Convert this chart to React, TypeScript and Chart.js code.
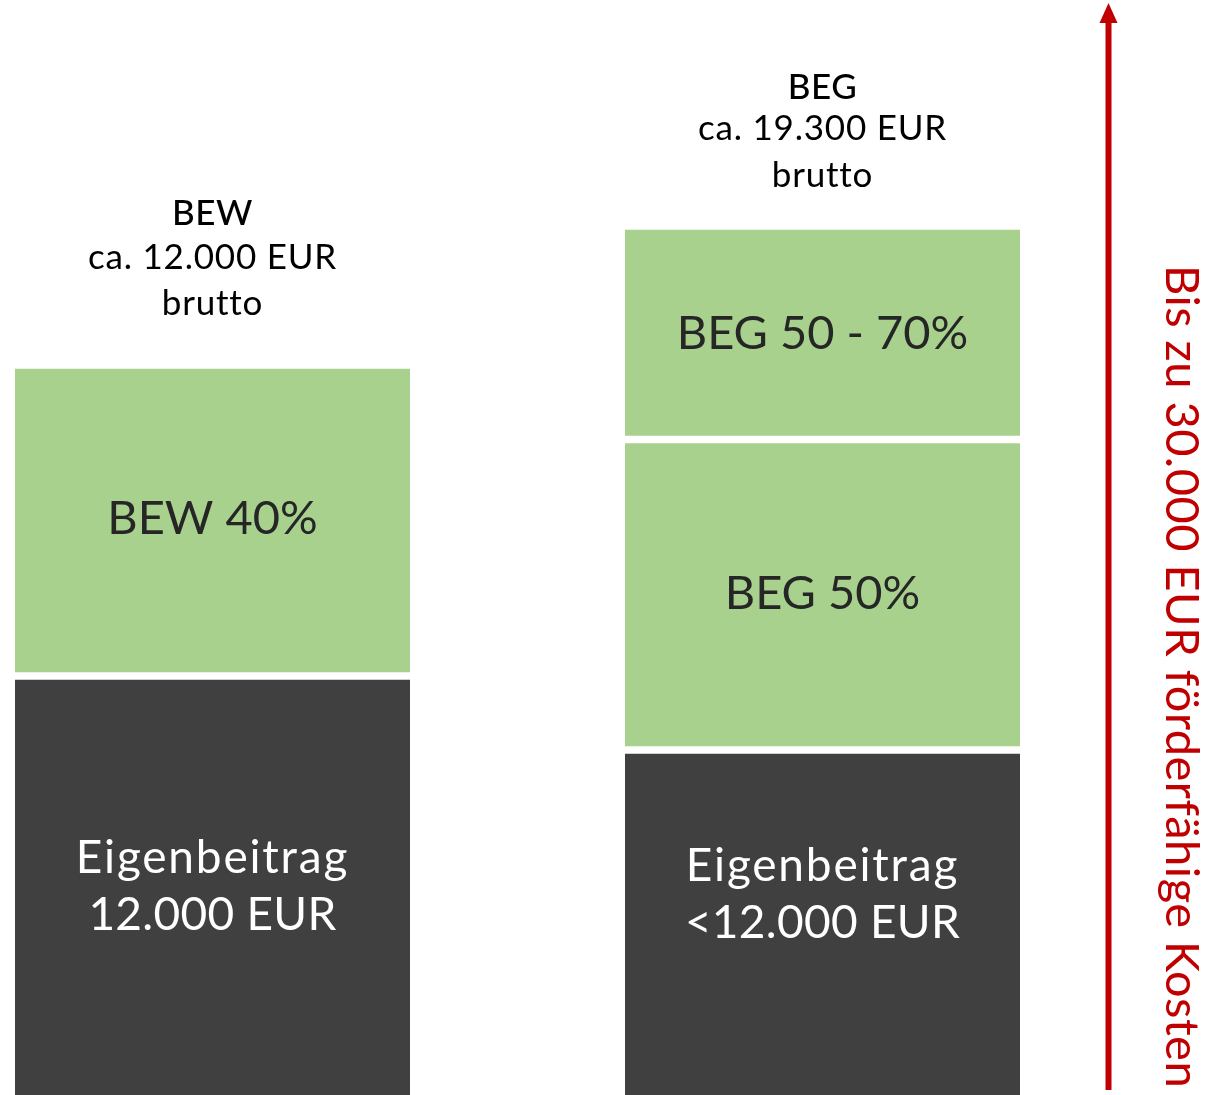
import React, { useEffect, useRef } from 'react';
import { Chart, registerables } from 'chart.js';

Chart.register(...registerables);

// ---- data ----
const categories = ['BEW', 'BEG'];
const headerLines = [
  ['BEW', 'ca. 12.000 EUR', 'brutto'],
  ['BEG', 'ca. 19.300 EUR', 'brutto'],
];
// segment heights (relative units)
const eigenbeitrag = [419, 345];
const foerderung = [311, 310.5];
const zusatzfoerderung: (number | null)[] = [null, 213.5];
const eigenLabels = [
  ['Eigenbeitrag', '12.000 EUR'],
  ['Eigenbeitrag', '<12.000 EUR'],
];
const foerderLabels = ['BEW 40%', 'BEG 50%'];
const zusatzLabels = ['', 'BEG 50 - 70%'];
const arrowLabel = 'Bis zu 30.000 EUR förderfähige Kosten';
const yMax = 1095;

// ---- style ----
const GREEN = '#A9D18E';
const DARK = '#404040';
const RED = '#C00000';
const FONT = 'Lato, "Noto Sans", sans-serif';
// baseline distance above bar top for each header line
const headerOffsets = [
  [140, 96, 50],
  [127, 86, 39],
];
const eigenShift = [0, -29];

const labelsPlugin = {
  id: 'labels',
  afterDatasetsDraw(chart: any) {
    const ctx = chart.ctx as CanvasRenderingContext2D & { letterSpacing?: string };
    const m0 = chart.getDatasetMeta(0).data;
    const m1 = chart.getDatasetMeta(1).data;
    const m2 = chart.getDatasetMeta(2).data;
    ctx.save();
    ctx.textAlign = 'center';
    ctx.textBaseline = 'alphabetic';

    const capCentered = (text: string, x: number, cy: number, size: number) => {
      ctx.fillText(text, x, cy + size * 0.358);
    };

    categories.forEach((_, i) => {
      const b0 = m0[i];
      const b1 = m1[i];
      const b2 = m2[i];
      // eigenbeitrag
      ctx.fillStyle = '#FFFFFF';
      ctx.font = `46px ${FONT}`;
      const cy0 = (b0.y + b0.base) / 2 + eigenShift[i];
      const lines = eigenLabels[i];
      const step = 57;
      lines.forEach((t, k) => {
        ctx.letterSpacing = /^[A-Za-z]+$/.test(t) ? '1.8px' : '0.3px';
        capCentered(t, b0.x, cy0 + (k - (lines.length - 1) / 2) * step, 46);
      });
      ctx.letterSpacing = '0px';
      // foerderung
      ctx.fillStyle = '#262626';
      ctx.font = `47px ${FONT}`;
      capCentered(foerderLabels[i], b1.x, (b1.y + b1.base) / 2 - 3, 47);
      // zusatz
      let top = b1.y;
      if (zusatzfoerderung[i] != null && zusatzLabels[i]) {
        capCentered(zusatzLabels[i], b2.x, (b2.y + b2.base) / 2 - 1, 47);
        top = b2.y;
      }
      // header
      ctx.fillStyle = '#000000';
      const hl = headerLines[i];
      hl.forEach((t, k) => {
        ctx.font = k === 0 ? `500 35px ${FONT}` : `35px ${FONT}`;
        ctx.letterSpacing = k === 0 ? '0.5px' : '0.8px';
        ctx.fillText(t, b0.x, top - headerOffsets[i][k]);
      });
      ctx.letterSpacing = '0px';
    });

    // red arrow
    const ax = 1108.5;
    ctx.strokeStyle = RED;
    ctx.fillStyle = RED;
    ctx.lineWidth = 6;
    ctx.beginPath();
    ctx.moveTo(ax, 1090);
    ctx.lineTo(ax, 20);
    ctx.stroke();
    ctx.beginPath();
    ctx.moveTo(ax - 9, 23);
    ctx.lineTo(ax + 9, 23);
    ctx.lineTo(ax, 3);
    ctx.closePath();
    ctx.fill();

    // rotated label
    ctx.translate(1166, 265);
    ctx.rotate(Math.PI / 2);
    const size = 47;
    ctx.font = `${size}px ${FONT}`;
    ctx.letterSpacing = '0.5px';
    ctx.textAlign = 'left';
    ctx.fillText(arrowLabel, 0, 0);
    ctx.restore();
  },
};

export default function App() {
  const ref = useRef<HTMLCanvasElement>(null);
  useEffect(() => {
    if (!ref.current) return;
    const chart = new Chart(ref.current, {
      type: 'bar',
      data: {
        labels: categories,
        datasets: [
          {
            label: 'Eigenbeitrag',
            data: eigenbeitrag,
            backgroundColor: DARK,
            borderColor: '#FFFFFF',
            borderWidth: { top: 4, bottom: 0, left: 0, right: 0 },
            borderSkipped: 'start',
            barThickness: 395,
            clip: false as any,
          },
          {
            label: 'Förderung',
            data: foerderung,
            backgroundColor: GREEN,
            borderColor: '#FFFFFF',
            borderWidth: { top: 4, bottom: 4, left: 0, right: 0 },
            borderSkipped: false,
            barThickness: 395,
            clip: false as any,
          },
          {
            label: 'Zusatzförderung',
            data: zusatzfoerderung,
            backgroundColor: GREEN,
            borderColor: '#FFFFFF',
            borderWidth: { top: 4, bottom: 4, left: 0, right: 0 },
            borderSkipped: false,
            barThickness: 395,
            clip: false as any,
          },
        ],
      },
      options: {
        responsive: false,
        animation: false,
        layout: { padding: { left: 212.5, right: 389.5, top: 0, bottom: 0 } },
        plugins: { legend: { display: false }, tooltip: { enabled: false } },
        scales: {
          x: { stacked: true, display: false, offset: false, grid: { display: false } },
          y: { stacked: true, display: false, min: 0, max: yMax, grid: { display: false } },
        },
      },
      plugins: [labelsPlugin],
    });
    return () => chart.destroy();
  }, []);
  return (
    <div style={{ position: 'absolute', left: 0, top: 0, width: 1212, height: 1095, background: '#fff' }}>
      <canvas ref={ref} width={1212} height={1095} style={{ width: 1212, height: 1095 }} />
    </div>
  );
}
